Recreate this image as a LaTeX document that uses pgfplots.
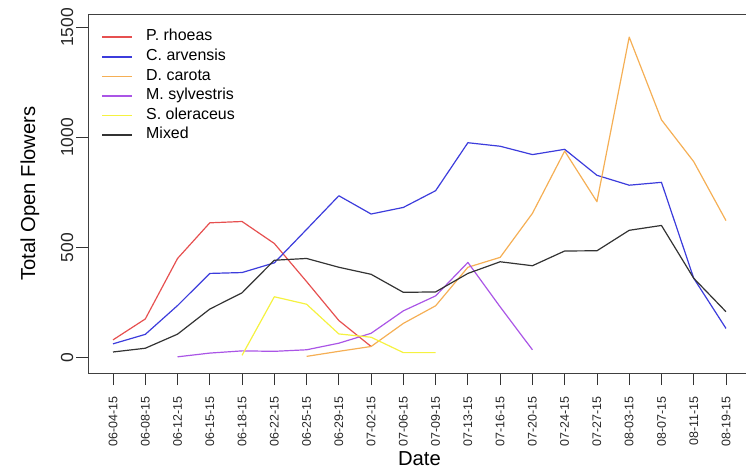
\documentclass[border=0pt]{standalone}
\usepackage{pgfplots}
\pgfplotsset{compat=1.18}
\usepackage{fontspec}
\setmainfont{Liberation Sans}
\definecolor{cred}{HTML}{E65050}
\definecolor{cblue}{HTML}{3C3CDC}
\definecolor{corange}{HTML}{F5AF55}
\definecolor{cpurple}{HTML}{AA55E6}
\definecolor{cyellow}{HTML}{F5F240}
\definecolor{cblack}{HTML}{333333}
\begin{document}
\begin{tikzpicture}
\useasboundingbox (0,0) rectangle (746bp,471bp);
\clip (0,0) rectangle (746bp,471bp);
\begin{axis}[
  at={(88.5bp,98bp)}, anchor=south west,
  scale only axis, width=662bp, height=359bp,
  xmin=-0.76, xmax=19.76, ymin=-70.5, ymax=1561,
  axis line style={draw=black!75, line width=0.8bp},
  tick style={black!80, line width=0.8bp},
  tick align=outside, major tick length=12bp,
  xtick pos=bottom, ytick pos=left,
  xtick={0,...,19},
  xticklabels={06-04-15,06-08-15,06-12-15,06-15-15,06-18-15,06-22-15,06-25-15,06-29-15,07-02-15,07-06-15,07-09-15,07-13-15,07-16-15,07-20-15,07-24-15,07-27-15,08-03-15,08-07-15,08-11-15,08-19-15},
  ytick={0,500,1000,1500},
  /pgf/number format/assume math mode=true,
  /pgf/number format/1000 sep={},
  scaled y ticks=false,
  yticklabel style={xshift=-3bp, rotate=90, anchor=south, inner sep=0pt, font=\fontsize{17.5}{17.5}\selectfont, text=black!85},
  xticklabel style={yshift=-11bp, rotate=90, anchor=east, inner sep=0pt, font=\fontsize{12.5}{12.5}\selectfont, text=black!85},
  xlabel={Date}, ylabel={Total Open Flowers},
  xlabel style={at={(axis description cs:0.5,-0.2563)}, anchor=base, font=\fontsize{20.3}{20.3}\selectfont, inner sep=0pt},
  ylabel style={at={(axis description cs:-0.0808,0.5)}, anchor=base, rotate=0, font=\fontsize{20.3}{20.3}\selectfont, inner sep=0pt},
  legend cell align=left,
  legend image code/.code={\draw[#1, line width=1.5bp] (0bp,0bp) -- (30bp,0bp);},
  legend style={draw=none, fill=none, at={(axis description cs:0,1)}, anchor=north west, xshift=13bp, yshift=-15.2bp,
    font=\fontsize{16}{16}\selectfont, row sep=4bp, inner sep=0pt,
    nodes={inner sep=0pt, text height=11.6bp, text depth=4bp},
    /tikz/every odd column/.append style={column sep=13bp}},
  every axis plot/.append style={line width=1.2bp, line join=round},
]
\addplot[cred] coordinates {(0,80)(1,175)(2,450)(3,612)(4,618)(5,518)(6,345)(7,168)(8,50)};
\addlegendentry{P. rhoeas}
\addplot[cblue] coordinates {(0,62)(1,105)(2,236)(3,382)(4,386)(5,430)(6,582)(7,735)(8,652)(9,682)(10,758)(11,976)(12,960)(13,922)(14,946)(15,828)(16,783)(17,796)(18,360)(19,132)};
\addlegendentry{C. arvensis}
\addplot[corange] coordinates {(6,5)(7,28)(8,50)(9,155)(10,235)(11,410)(12,455)(13,655)(14,938)(15,708)(16,1456)(17,1080)(18,890)(19,622)};
\addlegendentry{D. carota}
\addplot[cpurple] coordinates {(2,3)(3,20)(4,30)(5,28)(6,35)(7,65)(8,110)(9,212)(10,280)(11,432)(12,230)(13,35)};
\addlegendentry{M. sylvestris}
\addplot[cyellow] coordinates {(4,10)(5,276)(6,242)(7,107)(8,92)(9,22)(10,22)};
\addlegendentry{S. oleraceus}
\addplot[cblack] coordinates {(0,25)(1,42)(2,106)(3,220)(4,294)(5,442)(6,450)(7,410)(8,378)(9,296)(10,298)(11,382)(12,435)(13,417)(14,484)(15,485)(16,578)(17,600)(18,360)(19,208)};
\addlegendentry{Mixed}
\end{axis}
\end{tikzpicture}
\end{document}
